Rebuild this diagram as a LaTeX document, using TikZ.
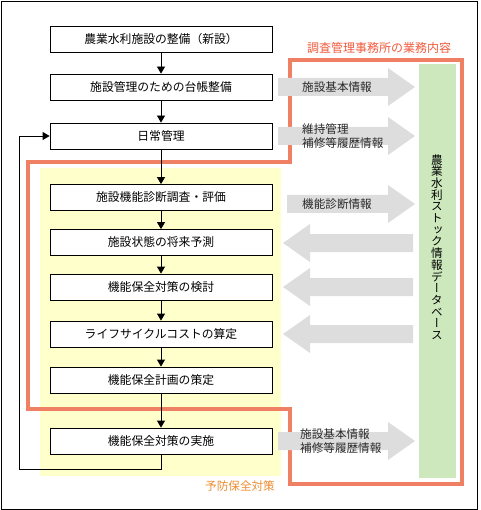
\documentclass[tikz,border=0pt]{standalone}
\usepackage{fontspec}
\setmainfont{Noto Sans CJK JP}
\newfontfamily\vertfont[RawFeature=+vert]{Noto Sans CJK JP}
\usetikzlibrary{arrows.meta}
\definecolor{jaOrange}{RGB}{240,128,100}
\definecolor{jaRed}{RGB}{240,90,60}
\definecolor{jaAmber}{RGB}{238,140,50}
\definecolor{jaYellow}{RGB}{255,255,204}
\definecolor{jaGreen}{RGB}{204,232,188}
\definecolor{jaGray}{RGB}{221,221,221}
\definecolor{jaText}{RGB}{40,40,40}

\begin{document}
\begin{tikzpicture}[
    x=1pt, y=-1pt,
    flowbox/.style={rectangle, draw, line width=0.8pt, fill=white, minimum width=222pt, minimum height=26pt, inner sep=0pt, font=\fontsize{11.8}{13}\selectfont},
    flow/.style={line width=0.8pt, -{Triangle[length=7pt,width=8pt]}},
    info/.style={anchor=west, align=left, inner sep=0pt, text=jaText, font=\fontsize{11.6}{14}\selectfont},
    fat/.style={fill=jaGray},
    scope line/.style={draw=jaOrange, line width=4pt, line join=miter},
    scope title/.style={text=jaRed, inner sep=0pt, font=\fontsize{12}{13}\selectfont},
    prev title/.style={text=jaAmber, inner sep=0pt, font=\fontsize{11.6}{13}\selectfont}
]
  \useasboundingbox (0,0) rectangle (480,510);
  \draw[line width=0.8pt] (1,1) rectangle (477,509);

  \fill[jaYellow] (40,168) rectangle (281,476);
  \draw[scope line] (28,162) -- (290,162) -- (290,60) -- (462,60) -- (462,484)
    -- (290,484) -- (290,409) -- (28,409) -- cycle;
  \fill[jaGreen] (419,64) rectangle (456,478);

  \node[scope title] (scopetitle) at (379,48) {調査管理事務所の業務内容};
  \node[prev title] (prevtitle) at (240,486) {予防保全対策};
  \node[align=center, inner sep=0pt, font=\vertfont\fontsize{11.6}{11.7}\selectfont] (dbname) at (437,247)
    {農\\業\\水\\利\\ス\\ト\\ッ\\ク\\情\\報\\デ\\ー\\タ\\ベ\\ー\\ス};

  \foreach \xa/\yc in {278/87, 278/136, 287/204, 278/441}
    \fill[fat] (\xa,\yc-9) -- (388,\yc-9) -- (388,\yc-19) -- (415,\yc)
      -- (388,\yc+19) -- (388,\yc+9) -- (\xa,\yc+9) -- cycle;
  \foreach \yc in {243, 287, 334}
    \fill[fat] (413,\yc-9) -- (310,\yc-9) -- (310,\yc-19) -- (283,\yc)
      -- (310,\yc+19) -- (310,\yc+9) -- (413,\yc+9) -- cycle;

  \node[info] (infobase) at (302,87) {施設基本情報};
  \node[info] (infodaily) at (302,136) {維持管理\\補修等履歴情報};
  \node[info] (infosurvey) at (302,204) {機能診断情報};
  \node[info] (infowork) at (300,441) {施設基本情報\\補修等履歴情報};

  \node[flowbox] (newbuild) at (161,39) {農業水利施設の整備（新設）};
  \node[flowbox] (ledger) at (161,87) {施設管理のための台帳整備};
  \node[flowbox] (daily) at (161,136) {日常管理};
  \node[flowbox] (survey) at (161,197.5) {施設機能診断調査・評価};
  \node[flowbox] (forecast) at (161,242.5) {施設状態の将来予測};
  \node[flowbox] (measure) at (161,287) {機能保全対策の検討};
  \node[flowbox] (lcc) at (161,334) {ライフサイクルコストの算定};
  \node[flowbox] (plan) at (161,380) {機能保全計画の策定};
  \node[flowbox] (work) at (161,441) {機能保全対策の実施};

  \foreach \a/\b in {newbuild/ledger, ledger/daily, daily/survey, survey/forecast,
                     forecast/measure, measure/lcc, lcc/plan, plan/work}
    \draw[flow] (\a) -- (\b);
  \coordinate (loop) at (19,469);
  \draw[flow] (work.south) |- (loop) |- (daily.west);
\end{tikzpicture}
\end{document}
